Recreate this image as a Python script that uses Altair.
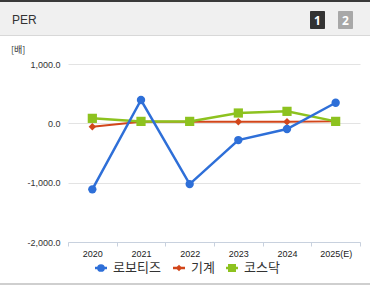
import altair as alt
import pandas as pd

years = ["2020", "2021", "2022", "2023", "2024", "2025(E)"]
robotis = [-1113, 393, -1024, -282, -96, 347]
machine = [-57, 27, 27, 27, 27, 33]
kosdaq = [84, 33, 33, 174, 202, 33]
series_names = ["로보티즈", "기계", "코스닥"]
colors = ["#2e6fd8", "#d2461a", "#8dc21f"]

rows = []
for name, vals in zip(series_names, [robotis, machine, kosdaq]):
    for y, v in zip(years, vals):
        rows.append({"year": y, "value": v, "series": name})
df = pd.DataFrame(rows)

W, H = 292, 178
L, T = 68, 64

xenc = alt.X("year:N", sort=years, title=None,
             scale=alt.Scale(paddingInner=0, paddingOuter=0),
             axis=alt.Axis(labelAngle=0, tickBand="extent", domainColor="#c8d1de",
                           tickColor="#c8d1de", tickSize=4, labelFontSize=9,
                           labelColor="#222", labelPadding=3, grid=False,
                           labelFont="Liberation Sans"))
yenc = alt.Y("value:Q", title=None,
             scale=alt.Scale(domain=[-2000, 1000], nice=False),
             axis=alt.Axis(values=[-2000, -1000, 0, 1000], domain=False, ticks=False,
                           gridColor="#e3e3e3", labelFontSize=9, labelColor="#333",
                           labelPadding=8, labelFont="Liberation Sans",
                           labelExpr="replace(format(datum.value, ',.1f'), '\u2212', '-')"))

base = alt.Chart(df)

def series_layer(name, color, shape, size, sw):
    d = base.transform_filter(alt.datum.series == name)
    line = d.mark_line(color=color, strokeWidth=sw).encode(x=xenc, y=yenc)
    pts = d.mark_point(color=color, filled=True, opacity=1, shape=shape, size=size).encode(x=xenc, y=yenc)
    return line + pts

red = series_layer("기계", colors[1], "diamond", 55, 2)
green = series_layer("코스닥", colors[2], "square", 85, 2.5)
blue = series_layer("로보티즈", colors[0], "circle", 70, 2.5)

one = pd.DataFrame({"a": [0]})
d1 = alt.Chart(one)
hdr_bg = d1.mark_rect(color="#f0f0f0").encode(x=alt.value(-L), x2=alt.value(370 - L),
                                               y=alt.value(2 - T), y2=alt.value(35 - T))
hdr_top = d1.mark_rect(color="#3a3a3a").encode(x=alt.value(-L), x2=alt.value(370 - L),
                                                y=alt.value(-T), y2=alt.value(2 - T))
hdr_bot = d1.mark_rect(color="#d8d8d8").encode(x=alt.value(-L), x2=alt.value(370 - L),
                                                y=alt.value(35 - T), y2=alt.value(36 - T))
bottom_line = d1.mark_rect(color="#cfcfcf").encode(x=alt.value(-L), x2=alt.value(370 - L),
                                                   y=alt.value(283 - T), y2=alt.value(285 - T))
title = d1.mark_text(text="PER", align="left", baseline="middle", fontSize=12,
                     color="#333", font="Liberation Sans").encode(x=alt.value(12 - L), y=alt.value(20 - T))
box1 = d1.mark_rect(color="#333333", cornerRadius=1).encode(x=alt.value(310 - L), x2=alt.value(325 - L),
                                              y=alt.value(11 - T), y2=alt.value(29 - T))
box2 = d1.mark_rect(color="#a8a8a8", cornerRadius=1).encode(x=alt.value(338 - L), x2=alt.value(353 - L),
                                              y=alt.value(11 - T), y2=alt.value(29 - T))
t1 = d1.mark_text(text="1", fontSize=12, fontWeight="bold", color="white", font="Noto Sans",
                  baseline="middle").encode(x=alt.value(317.5 - L), y=alt.value(20.5 - T))
t2 = d1.mark_text(text="2", fontSize=12, fontWeight="bold", color="white", font="Noto Sans",
                  baseline="middle").encode(x=alt.value(345.5 - L), y=alt.value(20.5 - T))
unit = d1.mark_text(text="[배]", align="left", baseline="middle", fontSize=9,
                    color="#333", font="Noto Sans CJK KR").encode(x=alt.value(11 - L), y=alt.value(50 - T))

# manual legend
LY = 268 - T
leg = []
specs = [(colors[0], "circle", 60, 95, 107, 101, 113, series_names[0]),
         (colors[1], "diamond", 40, 173, 185, 179, 191, series_names[1]),
         (colors[2], "square", 65, 226, 238, 232, 244, series_names[2])]
for c, shp, sz, xa, xb, xc, xt, lab in specs:
    leg.append(d1.mark_rule(color=c, strokeWidth=2.5).encode(
        x=alt.value(xa - L), x2=alt.value(xb - L), y=alt.value(LY)))
    leg.append(d1.mark_point(color=c, filled=True, opacity=1, shape=shp, size=sz).encode(
        x=alt.value(xc - L), y=alt.value(LY)))
    leg.append(d1.mark_text(text=lab, align="left", baseline="middle", fontSize=13,
                            color="#333", font="Noto Sans CJK KR").encode(
        x=alt.value(xt - L), y=alt.value(LY)))

chart = alt.layer(hdr_bg, hdr_top, hdr_bot, bottom_line, title, box1, box2, t1, t2, unit,
                  red, green, blue, *leg).properties(
    width=W, height=H,
    autosize=alt.AutoSizeParams(type="none"),
    padding={"left": L, "top": T, "right": 370 - L - W, "bottom": 285 - T - H},
).configure_view(stroke=None)

chart.save("out.html", embed_options={"renderer": "svg", "actions": False})
